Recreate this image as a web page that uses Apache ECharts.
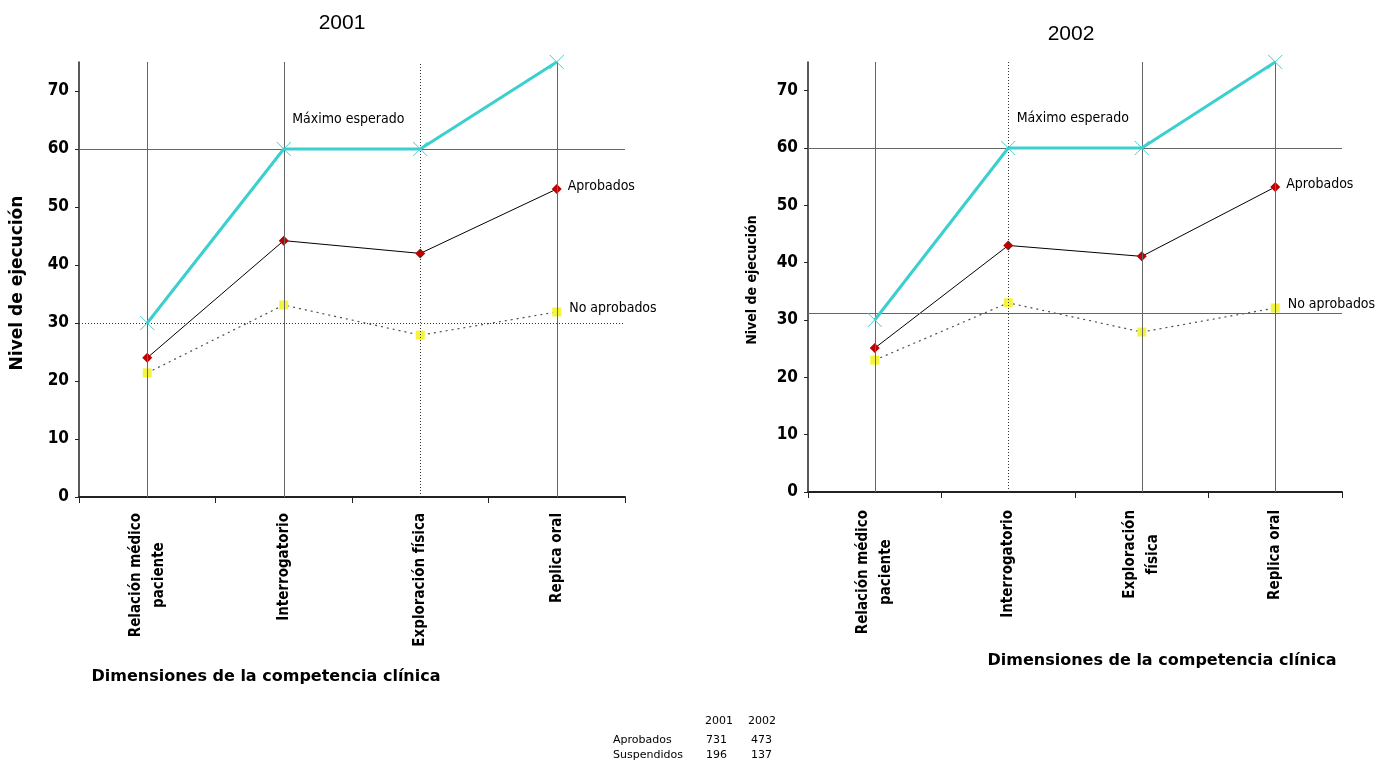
<!DOCTYPE html>
<html>
<head>
<meta charset="utf-8">
<script src="https://cdn.jsdelivr.net/npm/echarts@6/dist/echarts.min.js"></script>
<style>
html,body{margin:0;padding:0;background:#fff;}
#chart{width:1379px;height:774px;}
</style>
</head>
<body>
<div id="chart"></div>
<script>
// ---- Data ----
const categories2001 = ['Relación médico\npaciente', 'Interrogatorio', 'Exploración física', 'Replica oral'];
const categories2002 = ['Relación médico\npaciente', 'Interrogatorio', 'Exploración\nfísica', 'Replica oral'];
const maximo2001 = [30, 60, 60, 75];
const aprobados2001 = [24.0, 44.2, 42.0, 53.1];
const noAprobados2001 = [21.4, 33.1, 27.9, 31.9];
const maximo2002 = [30, 60, 60, 75];
const aprobados2002 = [25.1, 43.0, 41.1, 53.2];
const noAprobados2002 = [23.0, 33.0, 27.9, 32.1];
const refLines2001 = [60, 29.9];
const refLines2002 = [60, 31.1];
const yTicks = [0, 10, 20, 30, 40, 50, 60, 70];
const tableHeader = ['2001', '2002'];
const tableRows = ['Aprobados', 'Suspendidos'];
const tableValues2001 = [731, 196];
const tableValues2002 = [473, 137];

const CF = '"DejaVu Sans Condensed", "DejaVu Sans", sans-serif';
const WIDE = '"DejaVu Sans", sans-serif';
const SMALL = '"DejaVu Sans Condensed", "Liberation Sans Narrow", sans-serif';

function xAxisFor(cats, gridIndex, margin) {
  return {
    type: 'category', gridIndex, data: cats, boundaryGap: true,
    axisLine: { lineStyle: { color: '#222', width: 2 } },
    axisTick: { show: true, length: 6, lineStyle: { color: '#222', width: 1 } },
    axisLabel: {
      interval: 0, rotate: 90, margin,
      formatter: v => v.split('\n').map(s => '{c|' + s + '}').join('\n'),
      rich: { c: { align: 'center', fontFamily: CF, fontWeight: 'bold', fontSize: 15, color: '#000', lineHeight: 23 } }
    },
    splitLine: { show: false }
  };
}
function yAxisFor(gridIndex, fontSize) {
  return {
    type: 'value', gridIndex, min: 0, max: 75, interval: 10,
    axisLine: { show: true, lineStyle: { color: '#222', width: 1.5 } },
    axisTick: { show: true, length: 4, lineStyle: { color: '#222' } },
    axisLabel: { showMaxLabel: false, fontFamily: CF, fontWeight: 'bold', fontSize, color: '#000', margin: 10,
      formatter: v => yTicks.includes(v) ? String(v) : '' },
    splitLine: { show: false }
  };
}
function vline(cat, dotted) {
  return { xAxis: cat, lineStyle: { color: dotted ? '#333' : '#666', width: 1, type: dotted ? [1, 2] : 'solid' } };
}
function hline(val, dotted) {
  return { yAxis: val, lineStyle: { color: dotted ? '#333' : '#666', width: 1, type: dotted ? [1, 2] : 'solid' } };
}
function seriesFor(idx, cats, maxi, apr, noapr, refs, dottedV, dottedH) {
  return [
    {
      type: 'line', xAxisIndex: idx, yAxisIndex: idx, z: 5,
      symbol: 'path://M0,0L10,10M10,0L0,10', symbolSize: 14,
      itemStyle: { color: '#3ccfcf', borderColor: '#3ccfcf', borderWidth: 1 },
      lineStyle: { color: '#3ccfcf', width: 3 },
      label: { show: false },
      markLine: {
        silent: true, symbol: 'none', label: { show: false },
        data: cats.map((c, i) => vline(c, i === dottedV)).concat(refs.map((r, i) => hline(r, i === 1 && dottedH)))
      },
      data: maxi.map((v, i) => i === 1 ? {
        value: v,
        label: { show: true, formatter: 'Máximo esperado', position: 'right', offset: [-4, -30],
          fontFamily: SMALL, fontSize: 14, color: '#000' }
      } : v)
    },
    {
      type: 'line', xAxisIndex: idx, yAxisIndex: idx, z: 4,
      symbol: 'diamond', symbolSize: 10,
      itemStyle: { color: '#c00000' },
      lineStyle: { color: '#000', width: 1 },
      data: apr.map((v, i) => i === 3 ? { value: v, label: { show: true, formatter: 'Aprobados', position: 'right', distance: 6,
        fontFamily: SMALL, fontSize: 14, color: '#000', offset: [0, -3] } } : v)
    },
    {
      type: 'line', xAxisIndex: idx, yAxisIndex: idx, z: 3,
      symbol: 'rect', symbolSize: 9,
      itemStyle: { color: '#f4f43c' },
      lineStyle: { color: '#445544', width: 1.2, type: [2, 4] },
      data: noapr.map((v, i) => i === 3 ? { value: v, label: { show: true, formatter: 'No aprobados', position: 'right', distance: 8,
        fontFamily: SMALL, fontSize: 14, color: '#000', offset: [0, -4] } } : v)
    }
  ];
}

const chart = echarts.init(document.getElementById('chart'), null, { renderer: 'canvas' });
const TF = '11px ' + WIDE;
const tableGraphics = [];
tableGraphics.push({ type: 'text', left: 705, top: 716, style: { text: tableHeader[0], font: TF, fill: '#000' } });
tableGraphics.push({ type: 'text', left: 748, top: 716, style: { text: tableHeader[1], font: TF, fill: '#000' } });
tableRows.forEach((r, i) => {
  const y = 735 + i * 15;
  tableGraphics.push({ type: 'text', left: 613, top: y, style: { text: r, font: TF, fill: '#000' } });
  tableGraphics.push({ type: 'text', left: 706, top: y, style: { text: String(tableValues2001[i]), font: TF, fill: '#000' } });
  tableGraphics.push({ type: 'text', left: 751, top: y, style: { text: String(tableValues2002[i]), font: TF, fill: '#000' } });
});

chart.setOption({
  animation: false,
  backgroundColor: '#fff',
  title: [
    { text: '2001', left: 337, top: 8, textAlign: 'center', textStyle: { fontFamily: 'Liberation Sans, Arial', fontWeight: 'normal', fontSize: 21, color: '#000' } },
    { text: '2002', left: 1066, top: 19, textAlign: 'center', textStyle: { fontFamily: 'Liberation Sans, Arial', fontWeight: 'normal', fontSize: 21, color: '#000' } }
  ],
  grid: [
    { left: 79, right: 1379 - 625, top: 62, bottom: 774 - 497 },
    { left: 808, right: 1379 - 1342, top: 62, bottom: 774 - 492 }
  ],
  xAxis: [xAxisFor(categories2001, 0, 16), xAxisFor(categories2002, 1, 18)],
  yAxis: [yAxisFor(0, 17), yAxisFor(1, 17)],
  series: seriesFor(0, categories2001, maximo2001, aprobados2001, noAprobados2001, refLines2001, 2, true)
    .concat(seriesFor(1, categories2002, maximo2002, aprobados2002, noAprobados2002, refLines2002, 1, false)),
  graphic: [
    { type: 'text', x: 18, y: 283, rotation: Math.PI / 2, style: { text: 'Nivel de ejecución', font: 'bold 17px ' + WIDE, fill: '#000', textAlign: 'center', textVerticalAlign: 'middle' } },
    { type: 'text', x: 752, y: 280, rotation: Math.PI / 2, style: { text: 'Nivel de ejecución', font: 'bold 14px ' + CF, fill: '#000', textAlign: 'center', textVerticalAlign: 'middle' } },
    { type: 'text', x: 266, y: 677, style: { text: 'Dimensiones de la competencia clínica', font: 'bold 16px ' + WIDE, fill: '#000', textAlign: 'center', textVerticalAlign: 'middle' } },
    { type: 'text', x: 1162, y: 661, style: { text: 'Dimensiones de la competencia clínica', font: 'bold 16px ' + WIDE, fill: '#000', textAlign: 'center', textVerticalAlign: 'middle' } }
  ].concat(tableGraphics)
});
</script>
</body>
</html>
